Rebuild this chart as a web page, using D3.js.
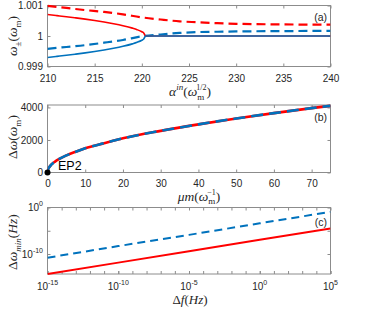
<!DOCTYPE html>
<html><head><meta charset="utf-8">
<script src="https://cdn.jsdelivr.net/npm/d3@7"></script>
<style>body{margin:0;background:#fff}svg{display:block}</style>
</head><body>
<script>
// ---------- Panel (a) data ----------
const alphaSolid = [210,211,212,213,214,215,216,217,218,219,219.5,220,220.2,220.4,221,222,225,230,235,240];
const omegaRedSolid = [1.000703,1.000668,1.000632,1.000593,1.000552,1.000507,1.000457,1.000402,1.000338,1.000258,1.000207,1.000138,1.000098,1.0,1.0,1.0,1.0,1.0,1.0,1.0];
const omegaBlueSolid = [0.999297,0.999332,0.999368,0.999407,0.999448,0.999493,0.999543,0.999598,0.999662,0.999742,0.999793,0.999862,0.999902,1.0,1.0,1.0,1.0,1.0,1.0,1.0];
const alphaDashed = [210,212,214,216,218,220,222,224,226,228,230,235,240];
const omegaRedDashed = [1.00099,1.00092,1.00085,1.00079,1.00071,1.00061,1.00054,1.00048,1.00045,1.00042,1.00040,1.00038,1.00037];
const omegaBlueDashed = [0.99958,0.99964,0.99970,0.99978,0.99987,0.99999,1.00005,1.00010,1.00013,1.00014,1.00015,1.00016,1.00017];
const xTicksA = [210,215,220,225,230,235,240];
const yTicksA = [0.999,1,1.001];
const yTickLabelsA = ["0.999","1","1.001"];

// ---------- Panel (b) data ----------
const muM = [0,0.2,0.5,1,2,3,5,7.5,10,15,20,30,40,50,60,70,75];
const deltaOmega = [0,215,340,480,670,820,1050,1280,1490,1800,2100,2560,2960,3320,3650,3960,4100];
const xTicksB = [0,10,20,30,40,50,60,70];
const yTicksB = [0,2000,4000];

// ---------- Panel (c) data ----------
const deltaF = [1e-15,1e-10,1e-5,1,1e5];
const dOmegaMinRed = [5.0e-15,1.4e-12,4.0e-10,1.1e-7,3.2e-5];
const dOmegaMinBlue = [1.6e-11,5.0e-9,1.3e-6,4.0e-4,0.115];
const xTicksCMajor = [-15,-10,-5,0,5];
const xTicksCMinor = d3.range(-15,6);
const yTicksC = [0,-5,-10];
const yTickLabelsC = [0,-10];

const RED = "#ff0000", BLUE = "#0072bd", AX = "#262626", BOXC = "#8c8c8c";
const W = 366, H = 309;
const svg = d3.select("body").append("svg").attr("width", W).attr("height", H);
const L = 47.5, R = 330.5;
const sans = "'Liberation Sans', Arial, sans-serif";
const serif = "'Liberation Serif', 'Times New Roman', serif";

function frame(x, y, top, bottom, xt, yt, opts) {
  const g = svg.append("g");
  const tl = 3;
  const ab = d3.axisBottom(x).tickValues(xt).tickSizeInner(-tl).tickSizeOuter(0).tickPadding(opts.xpad);
  if (opts.xfmt) ab.tickFormat(opts.xfmt);
  const gb = g.append("g").attr("transform", `translate(0,${bottom})`).call(ab);
  const at = d3.axisTop(x).tickValues(opts.xtTop || xt).tickSizeInner(-tl).tickSizeOuter(0).tickFormat("");
  const gt = g.append("g").attr("transform", `translate(0,${top})`).call(at);
  const al = d3.axisLeft(y).tickValues(yt).tickSizeInner(-tl).tickSizeOuter(0).tickPadding(4.5);
  if (opts.yfmt) al.tickFormat(opts.yfmt);
  const gl = g.append("g").attr("transform", `translate(${L},0)`).call(al);
  const ar = d3.axisRight(y).tickValues(yt).tickSizeInner(-tl).tickSizeOuter(0).tickFormat("");
  const gr = g.append("g").attr("transform", `translate(${R},0)`).call(ar);
  [gb, gt, gl, gr].forEach(s => {
    s.select(".domain").remove();
    s.selectAll(".tick line").attr("stroke", BOXC);
    s.selectAll(".tick text").attr("fill", AX).style("font-family", sans).style("font-size", "10px");
  });
  if (opts.xtBottomMinor) {
    const am = d3.axisBottom(x).tickValues(opts.xtBottomMinor).tickSizeInner(-tl).tickSizeOuter(0).tickFormat("");
    const gm = g.append("g").attr("transform", `translate(0,${bottom})`).call(am);
    gm.select(".domain").remove();
    gm.selectAll(".tick line").attr("stroke", BOXC);
  }
  g.append("rect").attr("x", L).attr("y", top).attr("width", R - L).attr("height", bottom - top)
    .attr("fill", "none").attr("stroke", BOXC).attr("stroke-width", 1);
  return {g, gb, gl};
}

function clip(id, top, bottom) {
  svg.append("clipPath").attr("id", id).append("rect")
    .attr("x", L).attr("y", top - 2).attr("width", R - L).attr("height", bottom - top + 4);
}

// ================= Panel (a) =================
const aTop = 5.5, aBot = 66.5;
const xA = d3.scaleLinear().domain([210, 240]).range([L, R]);
const yA = d3.scaleLinear().domain([0.999, 1.001]).range([aBot, aTop]);
frame(xA, yA, aTop, aBot, xTicksA, yTicksA, {xpad: 8.5, yfmt: (d, i) => yTickLabelsA[i]});
clip("ca", aTop, aBot);
const lineA = (xs, ys) => d3.line().curve(d3.curveMonotoneX).x((d, i) => xA(xs[i])).y((d, i) => yA(ys[i]))(ys);
const pa = svg.append("g").attr("clip-path", "url(#ca)").attr("fill", "none");
pa.append("path").attr("d", lineA(alphaDashed, omegaRedDashed)).attr("stroke", RED).attr("stroke-width", 2.2).attr("stroke-dasharray", "9,5");
pa.append("path").attr("d", lineA(alphaDashed, omegaBlueDashed)).attr("stroke", BLUE).attr("stroke-width", 2.2).attr("stroke-dasharray", "9,5");
pa.append("path").attr("d", lineA(alphaSolid, omegaRedSolid)).attr("stroke", RED).attr("stroke-width", 1.6);
pa.append("path").attr("d", lineA(alphaSolid, omegaBlueSolid)).attr("stroke", BLUE).attr("stroke-width", 1.6);

// ================= Panel (b) =================
const bTop = 105, bBot = 172.5;
const xB = d3.scaleLinear().domain([0, 75]).range([L, R]);
const yB = d3.scaleLinear().domain([0, 4150]).range([bBot, bTop]);
frame(xB, yB, bTop, bBot, xTicksB, yTicksB, {xpad: 7.5, yfmt: d3.format("d")});
clip("cb", bTop, bBot);
const lineB = d3.line().curve(d3.curveMonotoneX).x((d, i) => xB(muM[i])).y(d => yB(d))(deltaOmega);
const pb = svg.append("g").attr("clip-path", "url(#cb)").attr("fill", "none");
pb.append("path").attr("d", lineB).attr("stroke", RED).attr("stroke-width", 2.6);
pb.append("path").attr("d", lineB).attr("stroke", BLUE).attr("stroke-width", 2.6).attr("stroke-dasharray", "12,6");
svg.append("circle").attr("cx", xB(0)).attr("cy", yB(0)).attr("r", 3).attr("fill", "#000");
svg.append("text").attr("x", 58).attr("y", 170).text("EP2")
  .style("font-family", sans).style("font-size", "12.5px").attr("fill", "#000");

// ================= Panel (c) =================
const cTop = 207.5, cBot = 274;
const xC = d3.scaleLog().domain([1e-15, 1e5]).range([L, R]);
const yC = d3.scaleLog().domain([Math.pow(10, -14.3), 1]).range([cBot, cTop]);
frame(xC, yC, cTop, cBot, xTicksCMajor.map(e => Math.pow(10, e)), yTicksC.map(e => Math.pow(10, e)),
  {xpad: 8, xfmt: () => "", yfmt: () => "", xtTop: xTicksCMinor.map(e => Math.pow(10, e)),
   xtBottomMinor: xTicksCMinor.map(e => Math.pow(10, e))});
xTicksCMajor.forEach(e => {
  const t = svg.append("text").attr("x", xC(Math.pow(10, e))).attr("y", 289.5).attr("text-anchor", "middle")
    .attr("fill", AX).style("font-family", sans).style("font-size", "10px");
  t.append("tspan").text("10");
  t.append("tspan").attr("dy", -5).style("font-size", "7px").text(e);
});
yTickLabelsC.forEach(e => {
  const t = svg.append("text").attr("x", 43).attr("y", yC(Math.pow(10, e)) + 3.5).attr("text-anchor", "end")
    .attr("fill", AX).style("font-family", sans).style("font-size", "10px");
  t.append("tspan").text("10");
  t.append("tspan").attr("dy", -5).style("font-size", "7px").text(e);
});
clip("cc", cTop, cBot);
const lineC = ys => d3.line().x((d, i) => xC(deltaF[i])).y(d => yC(d))(ys);
const pc = svg.append("g").attr("clip-path", "url(#cc)").attr("fill", "none");
pc.append("path").attr("d", lineC(dOmegaMinRed)).attr("stroke", RED).attr("stroke-width", 2);
pc.append("path").attr("d", lineC(dOmegaMinBlue)).attr("stroke", BLUE).attr("stroke-width", 2).attr("stroke-dasharray", "8,5");

// ================= Panel labels =================
[["(a)", 21], ["(b)", 121], ["(c)", 226]].forEach(([s, y]) => {
  svg.append("text").attr("x", 327).attr("y", y).attr("text-anchor", "end").text(s)
    .attr("fill", AX).style("font-family", sans).style("font-size", "10.5px");
});

// ================= Axis titles =================
function mathText(x, y, rotate, parts, fs) {
  const t = svg.append("text").attr("text-anchor", "middle").attr("fill", AX)
    .style("font-family", serif).style("font-size", (fs || 13.5) + "px")
    .attr("transform", `translate(${x},${y})` + (rotate ? " rotate(-90)" : ""));
  parts.forEach(p => {
    const s = t.append("tspan").text(p.t);
    if (p.it) s.style("font-style", "italic");
    if (p.size) s.style("font-size", p.size + "px");
    if (p.dy) s.attr("dy", p.dy);
    if (p.dx) s.attr("dx", p.dx);
  });
  return t;
}
// (a) x: α^{in}(ω_m^{1/2})
mathText(190, 96, false, [
  {t: "α", it: true},
  {t: "in", it: true, size: 9, dy: -6},
  {t: "(", dy: 6},
  {t: "ω", it: true},
  {t: "m", size: 9, dy: 3.5},
  {t: "1/2", size: 8, dy: -9.5, dx: -8},
  {t: ")", dy: 6}
]);
// (a) y: ω±(ωm)
mathText(17, 36, true, [
  {t: "ω", it: true},
  {t: "±", size: 9, dy: 3.5},
  {t: "(", dy: -3.5},
  {t: "ω", it: true},
  {t: "m", size: 9, dy: 3.5},
  {t: ")", dy: -3.5}
]);
// (b) x: μm(ω_m^{-1})
mathText(199, 200.5, false, [
  {t: "μm", it: true},
  {t: "("},
  {t: "ω", it: true},
  {t: "m", size: 9, dy: 3},
  {t: "−1", size: 8, dy: -8.5, dx: -8},
  {t: ")", dy: 5.5}
]);
// (b) y: Δω(ωm)
mathText(17, 137, true, [
  {t: "Δ"},
  {t: "ω", it: true},
  {t: "("},
  {t: "ω", it: true},
  {t: "m", size: 9, dy: 3.5},
  {t: ")", dy: -3.5}
]);
// (c) x: Δf(Hz)
mathText(190, 303.5, false, [
  {t: "Δ"},
  {t: "f", it: true},
  {t: "("},
  {t: "Hz", it: true},
  {t: ")"}
], 13);
// (c) y: Δω_min(Hz)
mathText(17, 242, true, [
  {t: "Δ"},
  {t: "ω", it: true},
  {t: "min", it: true, size: 9, dy: 3.5},
  {t: "(", dy: -3.5},
  {t: "Hz", it: true},
  {t: ")"}
]);
</script>
</body></html>
